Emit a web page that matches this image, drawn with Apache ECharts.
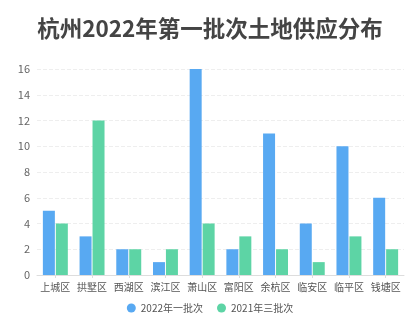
<!DOCTYPE html>
<html>
<head>
<meta charset="utf-8">
<script src="https://cdn.jsdelivr.net/npm/echarts@6/dist/echarts.min.js"></script>
<style>
  html, body { margin: 0; padding: 0; background: #fff; }
  #chart { width: 420px; height: 329px; }
</style>
</head>
<body>
<div id="chart"></div>
<script>
// 杭州各区土地供应宗数
const districts = ['上城区', '拱墅区', '西湖区', '滨江区', '萧山区', '富阳区', '余杭区', '临安区', '临平区', '钱塘区'];
const batch2022First = [5, 3, 2, 1, 16, 2, 11, 4, 10, 6];
const batch2021Third = [4, 12, 2, 2, 4, 3, 2, 1, 3, 2];
const seriesNames = ['2022年一批次', '2021年三批次'];
const yTicks = { min: 0, max: 16, interval: 2 };

const chart = echarts.init(document.getElementById('chart'));
const font = '"Noto Sans CJK SC", "Noto Sans", sans-serif';

chart.setOption({
  animation: false,
  textStyle: { fontFamily: font },
  title: {
    text: '杭州2022年第一批次土地供应分布',
    left: 'center',
    top: 12,
    textStyle: { fontFamily: font, fontSize: 22.5, fontWeight: 'bold', color: '#444' }
  },
  legend: {
    bottom: 11,
    left: 'center',
    icon: 'circle',
    itemWidth: 9,
    itemHeight: 9,
    itemGap: 14,
    textStyle: { fontFamily: font, fontSize: 10, color: '#555' },
    data: seriesNames
  },
  grid: { left: 37, right: 16, top: 69, bottom: 54 },
  xAxis: {
    type: 'category',
    data: districts,
    axisLine: { lineStyle: { color: '#ddd' } },
    axisTick: { show: true, alignWithLabel: true, length: 3, lineStyle: { color: '#ddd' } },
    axisLabel: { fontFamily: font, fontSize: 10, color: '#555', interval: 0, margin: 7 }
  },
  yAxis: {
    type: 'value',
    min: yTicks.min,
    max: yTicks.max,
    interval: yTicks.interval,
    axisLine: { show: false },
    axisTick: { show: false },
    axisLabel: { fontFamily: font, fontSize: 11, color: '#666', margin: 7 },
    splitLine: { lineStyle: { color: '#eee', type: 'dashed' } }
  },
  series: [
    {
      name: seriesNames[0],
      type: 'bar',
      data: batch2022First,
      barWidth: 12,
      barGap: '8%',
      itemStyle: { color: '#58a9f2' }
    },
    {
      name: seriesNames[1],
      type: 'bar',
      data: batch2021Third,
      barWidth: 12,
      itemStyle: { color: '#5dd4a5' }
    }
  ]
});
</script>
</body>
</html>
